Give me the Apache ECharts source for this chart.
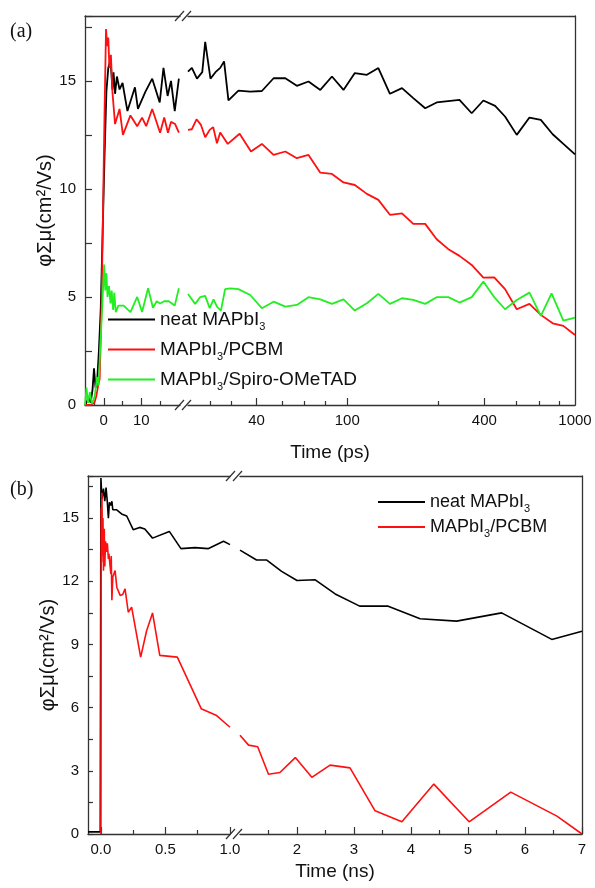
<!DOCTYPE html>
<html><head><meta charset="utf-8">
<script src="https://cdn.jsdelivr.net/npm/echarts@6/dist/echarts.min.js"></script>
<style>html,body{margin:0;padding:0;background:#fff}#c{width:595px;height:888px}</style>
</head><body><div id="c"></div>
<script>
// ---------- DATA (panel a: time in ps, panel b: time in ns) ----------
const aNeatEarly = [[-5,0],[-4.5,0.15],[-4,0.4],[-3.5,0.1],[-3,0.7],[-2.6,1.7],[-2.2,0.8],[-1.8,1.0],[-1.3,2.5],[-0.8,4.5],[-0.3,8],[0.2,11.5],[0.7,14.5],[1.2,15.6],[1.8,16.0],[2.3,14.6],[2.6,15.4],[3,14.4],[3.5,15.2],[4.2,14.6],[5,14.9],[6.3,13.6],[8.3,14.7],[9.1,13.7],[11.1,14.5],[12.9,15.1],[14.9,14.0],[15.9,15.6],[17,14.3],[17.9,15.0],[18.9,13.6],[20,15.1]];
const aPcbmEarly = [[-5,0],[-3.5,0],[-2.5,0.1],[-2,0.4],[-1.5,0.9],[-1.1,1.2],[-0.6,4.5],[-0.2,9],[0.2,13.5],[0.6,17.4],[0.9,16.6],[1.2,17.0],[1.5,15.6],[1.9,16.2],[2.3,14.5],[3,13.0],[4.2,13.7],[5.1,12.5],[7.1,13.4],[8.9,12.9],[10.2,13.3],[11.3,12.9],[12.9,13.7],[15,12.6],[16.1,13.3],[17.1,12.6],[17.9,13.1],[19,13.0],[20,12.6]];
const aSpiroEarly = [[-5,0],[-4.6,0.8],[-4.2,0.1],[-3.7,0.6],[-3.2,0.05],[-2.4,0.4],[-1.8,1.3],[-1.4,0.9],[-0.9,2.8],[-0.4,4.6],[0.1,6.5],[0.4,5.3],[0.7,6.1],[1.0,5.0],[1.4,5.5],[1.8,4.7],[2.1,5.3],[2.5,4.4],[2.8,5.2],[3.2,4.3],[3.9,4.6],[5.3,4.6],[7.1,4.3],[8.9,5.0],[10.2,4.3],[11.8,5.4],[13.1,4.5],[14.1,4.8],[15,4.7],[16.1,4.8],[17.3,4.8],[18.9,4.6],[20,5.4]];
const aNeatLate = [[20,15.43],[20.8,15.6],[21.9,15.1],[23.1,15.4],[23.8,16.8],[25.1,15.1],[26.4,15.4],[27.7,15.6],[28.8,15.9],[30.1,14.1],[33.3,14.55],[37.5,14.5],[42.2,14.53],[47.5,15.12],[53.5,15.12],[60.1,14.77],[67.6,14.97],[76.2,14.58],[85.7,15.2],[96.3,14.58],[108,15.36],[122,15.28],[137,15.59],[154,14.4],[174,14.66],[195,14.2],[220,13.73],[247,14.0],[311,14.12],[352,13.5],[396,14.09],[446,13.84],[493,13.35],[555,12.5],[631,13.3],[708,13.19],[798,12.53],[889,12.08],[1000,11.6]];
const aPcbmLate = [[20,12.73],[20.8,12.76],[21.8,13.22],[22.8,12.96],[23.8,12.39],[24.9,12.73],[25.8,12.86],[26.8,12.11],[27.7,12.61],[29.9,12.08],[33.7,12.55],[37.8,11.73],[42.2,12.08],[47.5,11.57],[53.5,11.73],[60.1,11.42],[67.6,11.57],[76.2,10.75],[85.7,10.69],[96.3,10.3],[108,10.18],[122,9.77],[137,9.49],[154,8.8],[174,8.87],[195,8.38],[220,8.38],[247,7.67],[278,7.21],[311,6.9],[352,6.48],[396,5.89],[442,5.91],[493,5.36],[555,4.43],[631,4.68],[708,4.17],[798,3.78],[889,3.66],[1000,3.24]];
const aSpiroLate = [[20,5.14],[21.5,4.68],[22.6,4.99],[23.8,5.05],[24.9,4.48],[25.9,4.89],[26.8,4.55],[27.9,4.37],[29.1,5.36],[30.7,5.4],[33.3,5.36],[37.5,5.09],[42.2,4.48],[47.5,4.78],[53.5,4.55],[60.1,4.63],[67.6,4.99],[76.2,4.89],[85.7,4.68],[96.3,4.89],[108,4.37],[122,4.71],[137,5.14],[154,4.68],[174,4.94],[195,4.86],[220,4.68],[247,4.99],[278,4.99],[311,4.74],[352,4.99],[396,5.71],[442,4.99],[493,4.43],[555,4.86],[631,5.2],[708,4.12],[789,5.17],[889,3.9],[1000,4.04]];
const bNeatEarly = [[-0.1,0.1],[-0.005,0.1],[0,16.9],[0.008,15.9],[0.02,16.4],[0.03,15.8],[0.04,16.45],[0.05,15.75],[0.058,15.0],[0.066,15.75],[0.077,15.6],[0.085,15.8],[0.092,15.4],[0.12,15.4],[0.16,15.2],[0.2,15.1],[0.25,14.45],[0.3,14.56],[0.34,14.48],[0.4,14.05],[0.53,14.37],[0.62,13.55],[0.73,13.6],[0.83,13.55],[0.95,13.9],[1.0,13.74]];
const bPcbmEarly = [[0,0],[0.002,15.5],[0.005,12.9],[0.008,16.2],[0.012,13.2],[0.016,15.0],[0.02,12.5],[0.026,14.5],[0.03,12.7],[0.036,13.9],[0.044,13.4],[0.05,13.8],[0.058,13.06],[0.062,13.3],[0.077,12.35],[0.08,13.2],[0.085,11.1],[0.092,12.2],[0.11,12.51],[0.123,11.72],[0.149,11.33],[0.169,11.37],[0.187,11.64],[0.212,10.53],[0.238,10.77],[0.308,8.4],[0.354,9.65],[0.4,10.5],[0.456,8.48],[0.592,8.4],[0.777,5.95],[0.892,5.64],[1.0,5.07]];
const bNeatLate = [[1.0,13.48],[1.29,13.01],[1.47,13.01],[1.73,12.47],[2.0,12.04],[2.32,12.07],[2.67,11.4],[3.1,10.82],[3.6,10.82],[4.16,10.22],[4.8,10.11],[5.59,10.5],[6.47,9.24],[7,9.63]];
const bPcbmLate = [[1.0,4.69],[1.15,4.22],[1.31,4.14],[1.5,2.84],[1.7,2.92],[1.97,3.63],[2.26,2.69],[2.58,3.27],[2.93,3.14],[3.37,1.1],[3.84,0.58],[4.4,2.37],[5.02,0.58],[5.75,1.99],[6.56,0.85],[7,0]];

// tick / label values
const aEarlyMajor = [0, 10];
const aEarlyMinor = [-2.5, 5, 15];
const aLateMajor = [40, 100, 400];
const aLateLabels = [40, 100, 400, 1000];
const aLateMinor = [25, 31, 52, 65, 80, 250, 550, 700, 850];
const bEarlyMajor = [0, 0.5, 1.0];
const bEarlyMinor = [0.25, 0.75];
const bLateMajor = [2, 3, 4, 5, 6, 7];
const bLateMinor = [1.5, 2.5, 3.5, 4.5, 5.5, 6.5];

const seriesNames = ['neat MAPbI3', 'MAPbI3/PCBM', 'MAPbI3/Spiro-OMeTAD'];
const colors = ['#000000', '#ff1010', '#22ee22'];

// ---------- LAYOUT ----------
const FONT = 'Liberation Sans, Arial, sans-serif';
const AX = '#333';
const G = [
  {left: 85, top: 16, width: 95, height: 389},
  {left: 188, top: 16, width: 387, height: 389},
  {left: 88, top: 476, width: 142, height: 358},
  {left: 240, top: 476, width: 342, height: 358}
];
const labelStyle = {fontFamily: FONT, fontSize: 15, color: '#111'};

function baseX(grid, type, min, max, pos) {
  return {gridIndex: grid, type: type, min: min, max: max, position: pos,
    axisLine: {show: true, onZero: false, lineStyle: {color: AX, width: 1.3}},
    axisTick: {show: false}, axisLabel: {show: false}, splitLine: {show: false}, minorTick: {show: false}};
}
function ticksX(grid, type, min, max, major, labels, minor, fmt) {
  const a = baseX(grid, type, min, max, 'bottom');
  a.axisTick = {show: true, inside: true, length: 7, customValues: major, lineStyle: {color: AX, width: 1.2}};
  a.axisLabel = Object.assign({show: true, customValues: labels, margin: 8, formatter: fmt}, labelStyle);
  const b = baseX(grid, type, min, max, 'bottom');
  b.axisLine = {show: false, onZero: false};
  b.axisTick = {show: true, inside: true, length: 4, customValues: minor, lineStyle: {color: AX, width: 1.2}};
  const c = baseX(grid, type, min, max, 'top');
  return [a, b, c];
}
const xAxes = [].concat(
  ticksX(0, 'value', -5, 20.3, aEarlyMajor, aEarlyMajor, aEarlyMinor, v => String(v)),
  ticksX(1, 'log', 20, 1000, aLateMajor, aLateLabels, aLateMinor, v => String(v)),
  ticksX(2, 'value', -0.1, 1.0, bEarlyMajor, bEarlyMajor, bEarlyMinor, v => Number(v).toFixed(1)),
  ticksX(3, 'value', 1, 7, bLateMajor, bLateMajor, bLateMinor, v => String(v))
);

const yName = 'φΣμ(cm²/Vs)';
function yLeft(grid, max, interval, labelStep, tickLen) {
  return {gridIndex: grid, type: 'value', min: 0, max: max, interval: interval, position: 'left',
    name: yName, nameLocation: 'middle', nameGap: 29,
    nameTextStyle: {fontFamily: FONT, fontSize: 20, color: '#111'},
    axisLine: {show: true, onZero: false, lineStyle: {color: AX, width: 1.3}},
    axisTick: {show: true, inside: true, length: tickLen, lineStyle: {color: AX, width: 1.2}},
    axisLabel: Object.assign({margin: 9, showMaxLabel: true,
      formatter: v => (Math.abs(v / labelStep - Math.round(v / labelStep)) < 1e-6 ? String(v) : '')}, labelStyle),
    splitLine: {show: false}};
}
function yRight(grid, max) {
  return {gridIndex: grid, type: 'value', min: 0, max: max, position: 'right',
    axisLine: {show: true, onZero: false, lineStyle: {color: AX, width: 1.3}},
    axisTick: {show: false}, axisLabel: {show: false}, splitLine: {show: false}};
}
const yAxes = [yLeft(0, 18, 2.5, 5, 7), yRight(1, 18), yLeft(2, 17, 1.5, 3, 5), yRight(3, 17)];

function line(name, color, data, xi, yi, w) {
  return {type: 'line', name: name, data: data, xAxisIndex: xi, yAxisIndex: yi,
    showSymbol: false, symbol: 'none', color: color, lineStyle: {color: color, width: w},
    animation: false, clip: true};
}
const series = [
  line(seriesNames[0], colors[0], aNeatEarly, 0, 0, 1.8),
  line(seriesNames[1], colors[1], aPcbmEarly, 0, 0, 1.8),
  line(seriesNames[2], colors[2], aSpiroEarly, 0, 0, 1.8),
  line(seriesNames[0], colors[0], aNeatLate, 3, 1, 1.8),
  line(seriesNames[1], colors[1], aPcbmLate, 3, 1, 1.8),
  line(seriesNames[2], colors[2], aSpiroLate, 3, 1, 1.8),
  line(seriesNames[0], colors[0], bNeatEarly, 6, 2, 1.6),
  line(seriesNames[1], colors[1], bPcbmEarly, 6, 2, 1.6),
  line(seriesNames[0], colors[0], bNeatLate, 9, 3, 1.6),
  line(seriesNames[1], colors[1], bPcbmLate, 9, 3, 1.6)
];

function legendFmt(name) {
  return name.replace('MAPbI3', 'MAPbI{s|3}');
}
function leg(name, left, top, fs) {
  return {data: [name], left: left, top: top, padding: 0, itemWidth: 47, itemHeight: 2, icon: 'rect',
    selectedMode: false, formatter: legendFmt,
    textStyle: {fontFamily: FONT, fontSize: fs, color: '#111',
      rich: {s: {fontFamily: FONT, fontSize: Math.round(fs * 0.6), color: '#111', padding: [14, 0, 0, 0]}}}};
}
const legends = [
  leg(seriesNames[0], 108, 310, 19), leg(seriesNames[1], 108, 340, 19), leg(seriesNames[2], 108, 370, 19),
  leg(seriesNames[0], 378, 493, 18), leg(seriesNames[1], 378, 518, 18)
];

// break marks
function slashes(cx, y) {
  const out = [];
  [-4, 3].forEach(function (dx) {
    out.push({type: 'line', shape: {x1: cx + dx - 5, y1: y + 5, x2: cx + dx + 4, y2: y - 5},
      style: {stroke: AX, lineWidth: 1.2}});
  });
  return out;
}
const aBreak = (G[0].left + G[0].width + G[1].left) / 2;
const bBreak = (G[2].left + G[2].width + G[3].left) / 2;
const graphics = [].concat(
  slashes(aBreak, G[0].top), slashes(aBreak, G[0].top + G[0].height),
  slashes(bBreak, G[2].top), slashes(bBreak, G[2].top + G[2].height),
  [
    {type: 'text', left: 10, top: 22, style: {text: '(a)', font: '20px "Liberation Serif", "Times New Roman", serif', fill: '#111'}},
    {type: 'text', left: 10, top: 480, style: {text: '(b)', font: '20px "Liberation Serif", "Times New Roman", serif', fill: '#111'}},
    {type: 'text', x: (G[0].left + G[1].left + G[1].width) / 2, y: 453,
      style: {text: 'Time (ps)', font: '19px ' + FONT, fill: '#111', textAlign: 'center', textVerticalAlign: 'middle'}},
    {type: 'text', x: (G[2].left + G[3].left + G[3].width) / 2, y: 872,
      style: {text: 'Time (ns)', font: '19px ' + FONT, fill: '#111', textAlign: 'center', textVerticalAlign: 'middle'}}
  ]
);

const chart = echarts.init(document.getElementById('c'), null, {renderer: 'canvas'});
chart.setOption({
  backgroundColor: '#fff',
  animation: false,
  grid: G.map(g => Object.assign({containLabel: false}, g)),
  xAxis: xAxes,
  yAxis: yAxes,
  legend: legends,
  series: series,
  graphic: graphics
});
</script></body></html>
